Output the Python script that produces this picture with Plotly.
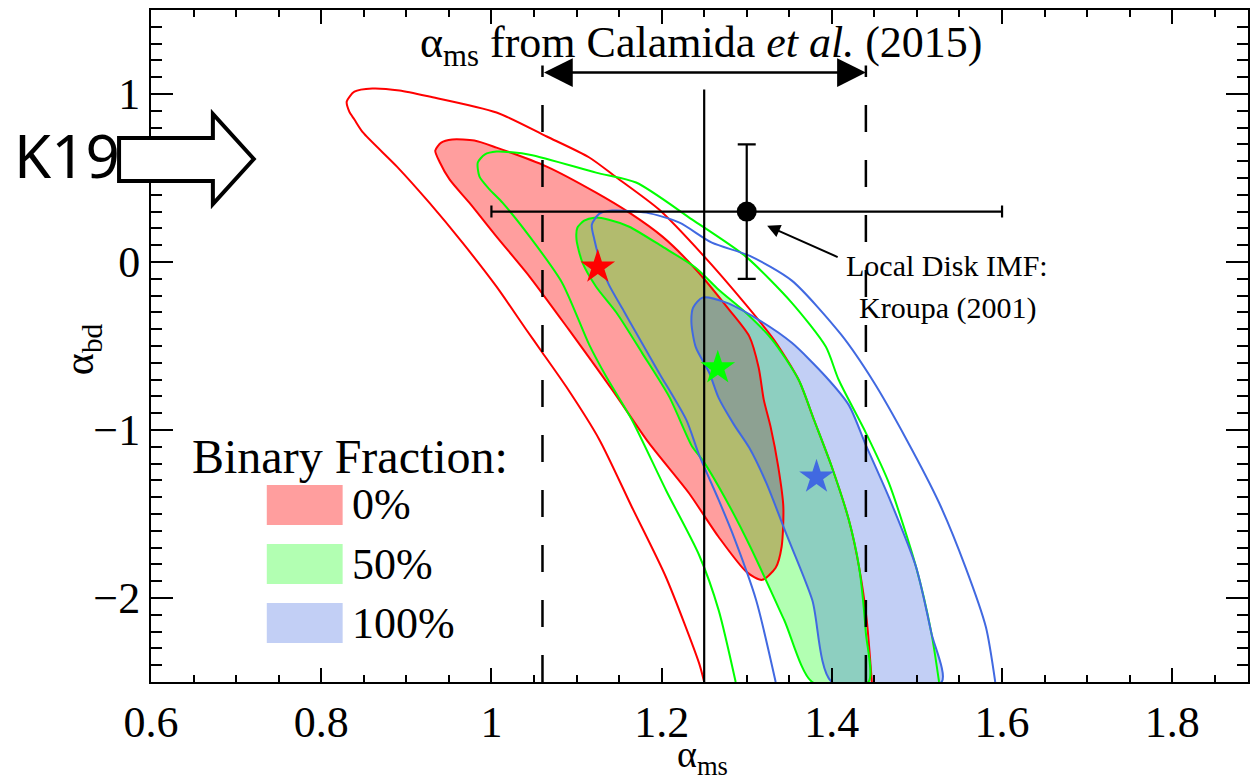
import plotly.graph_objects as go

# ---------------- data ----------------
x_tickvals = [0.6, 0.8, 1.0, 1.2, 1.4, 1.6, 1.8]
x_ticktext = ["0.6", "0.8", "1", "1.2", "1.4", "1.6", "1.8"]
y_tickvals = [-2, -1, 0, 1]
y_ticktext = ["\u22122", "\u22121", "0", "1"]

# 0% binary fraction: outer contour (line) and inner contour (filled)
red_outer_x = [1.250, 1.244, 1.205, 1.165, 1.127, 1.088, 1.060, 1.041, 1.006, 0.966, 0.927, 0.889,
               0.849, 0.839, 0.833, 0.830, 0.839, 0.860, 0.892, 0.927, 1.006, 1.065, 1.115, 1.147,
               1.197, 1.248, 1.299, 1.332, 1.361, 1.379, 1.400, 1.420, 1.432, 1.441, 1.447]
red_outer_y = [-2.50, -2.388, -1.875, -1.458, -1.059, -0.743, -0.540, -0.403, -0.147, 0.115, 0.353, 0.568,
               0.771, 0.848, 0.895, 0.955, 1.014, 1.033, 1.021, 0.985, 0.890, 0.747, 0.622, 0.503,
               0.312, 0.044, -0.254, -0.463, -0.701, -0.939, -1.220, -1.536, -1.816, -2.131, -2.50]
red_inner_x = [0.934, 0.941, 0.954, 0.980, 1.006, 1.065, 1.123, 1.162, 1.201, 1.240, 1.279, 1.303,
               1.314, 1.320, 1.328, 1.337, 1.343, 1.341, 1.334, 1.318, 1.300, 1.267, 1.232, 1.185,
               1.142, 1.091, 1.045, 1.006, 0.974, 0.951, 0.939, 0.934]
red_inner_y = [0.663, 0.711, 0.729, 0.723, 0.681, 0.568, 0.413, 0.294, 0.151, -0.043, -0.282, -0.443,
               -0.628, -0.819, -0.980, -1.218, -1.456, -1.695, -1.820, -1.892, -1.846, -1.637, -1.375, -1.077,
               -0.761, -0.403, -0.088, 0.151, 0.353, 0.490, 0.597, 0.663]

# 50% binary fraction
green_outer_x = [1.287, 1.267, 1.244, 1.205, 1.165, 1.135, 1.115, 1.083, 1.045, 1.013, 0.998, 0.986,
                 0.984, 0.992, 1.006, 1.045, 1.123, 1.170, 1.236, 1.299, 1.353, 1.393, 1.408, 1.440,
                 1.467, 1.499, 1.517, 1.526]
green_outer_y = [-2.50, -2.072, -1.744, -1.357, -0.939, -0.683, -0.493, -0.123, 0.151, 0.353, 0.431, 0.508,
                 0.592, 0.639, 0.657, 0.639, 0.532, 0.473, 0.252, 0.032, -0.243, -0.505, -0.701, -1.017,
                 -1.315, -1.816, -2.209, -2.50]
green_inner_x = [1.377, 1.344, 1.306, 1.279, 1.248, 1.236, 1.209, 1.177, 1.147, 1.123, 1.107, 1.100,
                 1.101, 1.109, 1.121, 1.138, 1.162, 1.201, 1.240, 1.267, 1.299, 1.330, 1.361, 1.379,
                 1.400, 1.420, 1.432, 1.440, 1.443, 1.377]
green_inner_y = [-2.50, -2.131, -1.714, -1.446, -1.178, -1.100, -0.803, -0.541, -0.302, -0.147, -0.004, 0.133,
                 0.204, 0.246, 0.264, 0.252, 0.210, 0.091, -0.034, -0.165, -0.302, -0.463, -0.701, -0.939,
                 -1.220, -1.536, -1.816, -2.209, -2.50, -2.50]

# 100% binary fraction
blue_outer_x = [1.334, 1.311, 1.283, 1.267, 1.244, 1.229, 1.197, 1.170, 1.156, 1.138, 1.129, 1.121,
                1.118, 1.127, 1.142, 1.182, 1.221, 1.259, 1.303, 1.353, 1.411, 1.449, 1.488, 1.526,
                1.557, 1.581, 1.592]
blue_outer_y = [-2.50, -2.012, -1.613, -1.416, -1.148, -0.940, -0.660, -0.421, -0.296, -0.135, -0.016, 0.133,
                0.222, 0.288, 0.306, 0.294, 0.234, 0.115, 0.038, -0.111, -0.433, -0.713, -1.059, -1.433,
                -1.816, -2.173, -2.50]
blue_inner_x = [1.400, 1.377, 1.346, 1.323, 1.303, 1.285, 1.267, 1.256, 1.240, 1.235, 1.237, 1.248,
                1.276, 1.314, 1.353, 1.393, 1.420, 1.440, 1.467, 1.499, 1.517, 1.529, 1.400]
blue_inner_y = [-2.50, -2.012, -1.613, -1.315, -1.106, -0.968, -0.809, -0.660, -0.505, -0.362, -0.272, -0.212,
                -0.242, -0.344, -0.481, -0.683, -0.852, -1.090, -1.400, -1.816, -2.209, -2.50, -2.50]

# best-fit points (stars)
best_x = [1.125, 1.266, 1.382]
best_y = [-0.03, -0.63, -1.28]

# Kroupa (2001) local disk IMF
kroupa_ms, kroupa_bd = 1.3, 0.3
kroupa_ms_err, kroupa_bd_err = 0.3, 0.4

# Calamida et al. (2015) alpha_ms range and central value
calamida_lo, calamida_mid, calamida_hi = 1.06, 1.25, 1.44
calamida_arrow_y = 1.128
calamida_dash_top = 1.17
calamida_mid_top = 1.027

legend_labels = ["0%", "50%", "100%"]

# ---------------- styling ----------------
RED, GREEN, BLUE = "#ff0000", "#00ff00", "#4169e1"
RED_FILL = "rgba(255,0,0,0.38)"
GREEN_FILL = "rgba(0,255,0,0.30)"
BLUE_FILL = "rgba(65,105,225,0.32)"
SERIF = "Liberation Serif"

W, H = 1258, 781
ML, MR, MT, MB = 151, 8, 10, 99
PW, PH = W - ML - MR, H - MT - MB


def px(xp):
    return (xp - ML) / PW


def py(yp):
    return (H - MB - yp) / PH


fig = go.Figure()
SMOOTH = dict(shape="spline", smoothing=0.7)

# filled inner contours
for xs, ys, fc in [(red_inner_x, red_inner_y, RED_FILL),
                   (green_inner_x, green_inner_y, GREEN_FILL),
                   (blue_inner_x, blue_inner_y, BLUE_FILL)]:
    fig.add_trace(go.Scatter(x=xs, y=ys, mode="lines", fill="toself", fillcolor=fc,
                             line=dict(width=0, **SMOOTH), hoverinfo="skip"))

# contour lines
for xs, ys, c in [(red_outer_x, red_outer_y, RED), (red_inner_x, red_inner_y, RED),
                  (green_outer_x, green_outer_y, GREEN), (green_inner_x, green_inner_y, GREEN),
                  (blue_outer_x, blue_outer_y, BLUE), (blue_inner_x, blue_inner_y, BLUE)]:
    fig.add_trace(go.Scatter(x=xs, y=ys, mode="lines", line=dict(color=c, width=2, **SMOOTH),
                             hoverinfo="skip"))

# Calamida lines
for xv in [calamida_lo, calamida_hi]:
    fig.add_trace(go.Scatter(x=[xv, xv], y=[-2.5, calamida_dash_top], mode="lines",
                             line=dict(color="black", width=2.5, dash="27px,28px")))
fig.add_trace(go.Scatter(x=[calamida_mid, calamida_mid], y=[-2.5, calamida_mid_top], mode="lines",
                         line=dict(color="black", width=2.2)))

# Kroupa point
fig.add_trace(go.Scatter(
    x=[kroupa_ms], y=[kroupa_bd], mode="markers",
    marker=dict(color="black", size=20),
    error_x=dict(type="constant", value=kroupa_ms_err, color="black", thickness=2.2, width=6),
    error_y=dict(type="constant", value=kroupa_bd_err, color="black", thickness=2.2, width=9),
))

# stars
fig.add_trace(go.Scatter(x=best_x, y=best_y, mode="markers",
                         marker=dict(symbol="star", size=26, color=[RED, GREEN, BLUE],
                                     line=dict(width=0))))

annotations = []
# title over the Calamida range
annotations.append(dict(xref="paper", yref="paper", x=px(702), y=py(45),
                        text="\u03b1<sub>ms</sub> from Calamida <i>et al.</i> (2015)",
                        showarrow=False, font=dict(family=SERIF, size=44, color="black"),
                        xanchor="center", yanchor="middle"))
# double arrow
annotations.append(dict(x=calamida_hi, y=calamida_arrow_y, ax=calamida_lo, ay=calamida_arrow_y,
                        xref="x", yref="y", axref="x", ayref="y", text="", showarrow=True,
                        arrowside="end+start", arrowhead=2, startarrowhead=2,
                        arrowwidth=2.5, arrowsize=2.3, startarrowsize=2.3, arrowcolor="black"))
# Kroupa label + arrow
annotations.append(dict(xref="paper", yref="paper", x=px(948), y=py(265), text="Local Disk IMF:",
                        showarrow=False, font=dict(family=SERIF, size=30, color="black"),
                        xanchor="center", yanchor="middle"))
annotations.append(dict(xref="paper", yref="paper", x=px(949), y=py(308), text="Kroupa (2001)",
                        showarrow=False, font=dict(family=SERIF, size=30, color="black"),
                        xanchor="center", yanchor="middle"))
annotations.append(dict(x=kroupa_ms + 0.024, y=kroupa_bd - 0.084, xref="x", yref="y", text="",
                        showarrow=True, ax=72, ay=32, arrowhead=2, arrowwidth=2, arrowsize=1.3,
                        arrowcolor="black"))
# legend
annotations.append(dict(xref="paper", yref="paper", x=px(190), y=py(456), text="Binary Fraction:",
                        showarrow=False, font=dict(family=SERIF, size=48, color="black"),
                        xanchor="left", yanchor="middle"))
shapes = []
for i, (lab, fc) in enumerate(zip(legend_labels, [RED_FILL, GREEN_FILL, BLUE_FILL])):
    yc = 505 + 59 * i
    shapes.append(dict(type="rect", xref="paper", yref="paper", x0=px(267), x1=px(343),
                       y0=py(yc + 20), y1=py(yc - 20), fillcolor=fc, line=dict(width=0)))
    annotations.append(dict(xref="paper", yref="paper", x=px(350), y=py(yc), text=lab,
                            showarrow=False, font=dict(family=SERIF, size=44, color="black"),
                            xanchor="left", yanchor="middle"))
# axis titles
annotations.append(dict(xref="paper", yref="paper", x=px(704), y=py(757),
                        text="\u03b1<sub>ms</sub>", showarrow=False,
                        font=dict(family=SERIF, size=38, color="black"),
                        xanchor="center", yanchor="middle"))
annotations.append(dict(xref="paper", yref="paper", x=px(82), y=py(349),
                        text="\u03b1<sub>bd</sub>", showarrow=False, textangle=-90,
                        font=dict(family=SERIF, size=42, color="black"),
                        xanchor="center", yanchor="middle"))
# K19 marker
annotations.append(dict(xref="paper", yref="paper", x=px(12), y=py(155), text="K19",
                        showarrow=False, font=dict(family="Noto Sans", size=60, color="black"),
                        xanchor="left", yanchor="middle"))
arrow_pts = [(119, 138), (213, 138), (213, 114), (254, 159), (213, 204), (213, 181), (119, 181)]
path = "M " + " L ".join(f"{px(a):.5f},{py(b):.5f}" for a, b in arrow_pts) + " Z"
shapes.append(dict(type="path", xref="paper", yref="paper", path=path,
                   fillcolor="white", line=dict(color="black", width=4), layer="above"))

axis_common = dict(showgrid=False, zeroline=False, showline=True, linecolor="black", linewidth=2,
                   mirror="ticks", ticks="inside", tickcolor="black",
                   tickfont=dict(family=SERIF, size=44, color="black"))

fig.update_layout(
    width=W, height=H, margin=dict(l=ML, r=MR, t=MT, b=MB),
    paper_bgcolor="white", plot_bgcolor="white", showlegend=False,
    xaxis=dict(range=[0.6, 1.889], tickmode="array", tickvals=x_tickvals, ticktext=x_ticktext,
               ticklen=14, tickwidth=2,
               minor=dict(tickmode="linear", tick0=0.6, dtick=0.05, ticklen=7, tickwidth=1.5,
                          ticks="inside", tickcolor="black"),
               **axis_common),
    yaxis=dict(range=[-2.5, 1.5], tickmode="array", tickvals=y_tickvals, ticktext=y_ticktext,
               ticklen=22, tickwidth=2,
               minor=dict(tickmode="linear", tick0=-2.5, dtick=0.1, ticklen=11, tickwidth=1.5,
                          ticks="inside", tickcolor="black"),
               **axis_common),
    annotations=annotations, shapes=shapes,
)

fig.write_html("out.html")
